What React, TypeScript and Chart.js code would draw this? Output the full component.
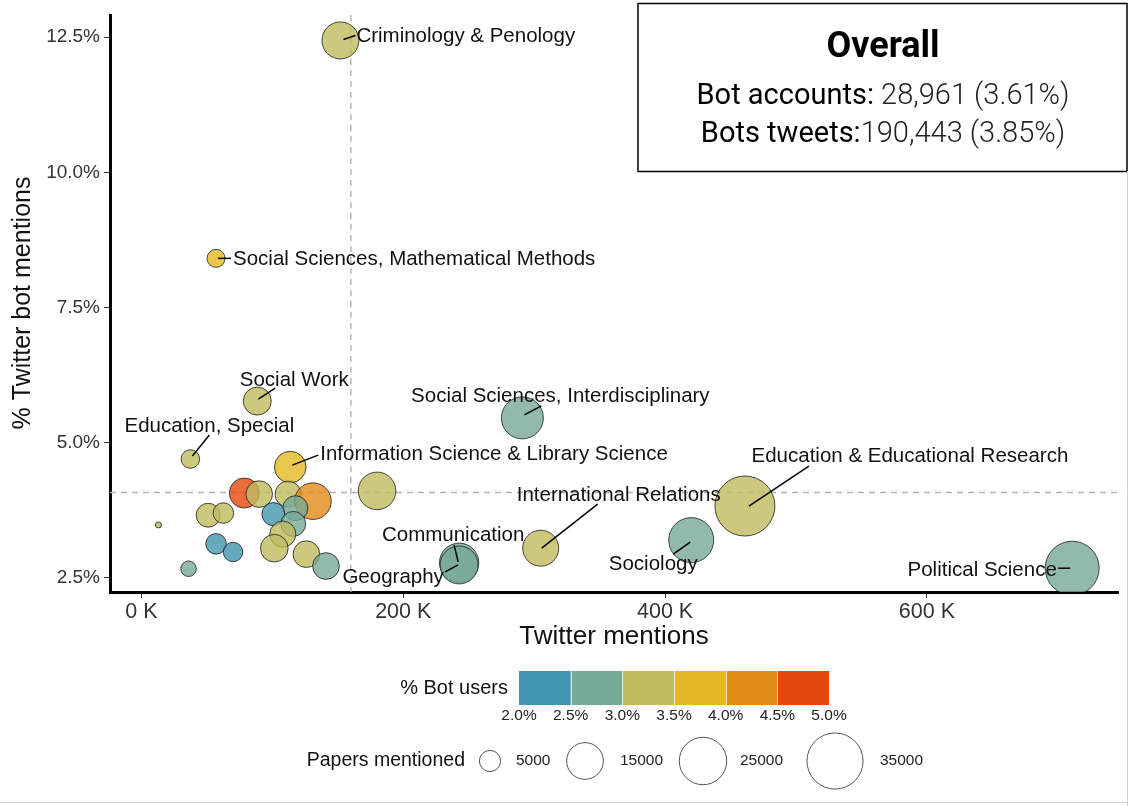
import React, { useEffect, useRef } from "react";
import { Chart, registerables } from "chart.js";

Chart.register(...registerables);

// ---------------- DATA ----------------
const categories = [
  "Criminology & Penology",
  "Social Sciences, Mathematical Methods",
  "Social Work",
  "Education, Special",
  "Information Science & Library Science",
  "", "", "", "", "", "", "", "", "", "", "", "", "", "", "", "", "",
  "",
  "Social Sciences, Interdisciplinary",
  "Communication",
  "Geography",
  "International Relations",
  "Sociology",
  "Education & Educational Research",
  "Political Science",
];
const twitterMentions = [
  152000, 57000, 88500, 37400, 113700,
  78600, 90000, 112000, 131000, 117600, 100800, 116000, 108000, 51000, 62600,
  13000, 57000, 70000, 101500, 126000, 141000, 36000,
  180000,
  291000, 242700, 242700, 305000, 420000, 461000, 711000,
];
const botMentionPct = [
  12.44, 8.41, 5.77, 4.7, 4.55,
  4.07, 4.05, 4.05, 3.92, 3.79, 3.68, 3.5, 3.31, 3.66, 3.7,
  3.48, 3.13, 2.98, 3.05, 2.94, 2.72, 2.67,
  4.11,
  5.46, 2.78, 2.74, 3.05, 3.2, 3.83, 2.68,
];
const botUserPct = [
  3.2, 3.7, 3.2, 3.3, 3.8,
  4.7, 3.2, 3.1, 4.2, 2.8, 2.3, 2.7, 3.1, 3.2, 3.3,
  3.1, 2.4, 2.3, 3.2, 3.3, 2.8, 2.8,
  3.2,
  2.8, 2.7, 2.6, 3.2, 2.8, 3.1, 2.8,
];
const papersMentioned = [
  15200, 3600, 8700, 3840, 11100,
  10000, 7860, 7500, 14900, 6900, 5900, 6900, 7500, 6400, 4700,
  400, 4700, 4200, 8500, 7900, 7900, 2700,
  15700,
  19600, 17200, 16000, 14400, 22500, 40000, 32400,
];

const xTickValues = [0, 200000, 400000, 600000];
const xTickLabels = ["0 K", "200 K", "400 K", "600 K"];
const yTickValues = [2.5, 5, 7.5, 10, 12.5];
const yTickLabels = ["2.5%", "5.0%", "7.5%", "10.0%", "12.5%"];
const referenceMentions = 160000;
const referenceBotPct = 4.08;

const colorBreaks = [2.0, 2.5, 3.0, 3.5, 4.0, 4.5, 5.0];
const colorBreakLabels = ["2.0%", "2.5%", "3.0%", "3.5%", "4.0%", "4.5%", "5.0%"];
const sizeLegendValues = [5000, 15000, 25000, 35000];
const sizeLegendLabels = ["5000", "15000", "25000", "35000"];

const xAxisTitle = "Twitter mentions";
const yAxisTitle = "% Twitter bot mentions";
const colorLegendTitle = "% Bot users";
const sizeLegendTitle = "Papers mentioned";
const overallTitle = "Overall";
const overallLines = [
  ["Bot accounts:", " 28,961 (3.61%)"],
  ["Bots tweets:", "190,443 (3.85%)"],
];

// ---------------- STYLE / LAYOUT ----------------
const binColors = ["#4195AE", "#76A997", "#BFBC5F", "#E3B822", "#E08B16", "#E4480D"];
const SANS = "'Liberation Sans', Arial, Helvetica, sans-serif";
const ROBOTO = "Roboto, 'Noto Sans', sans-serif";

// label placement offsets (pixels, relative to bubble centre)
const labelLayout: Record<string, { tx: number; ty: number; align: CanvasTextAlign; seg: number[] }> = {
  "Criminology & Penology": { tx: 16, ty: -4, align: "left", seg: [3, -1, 15, -5] },
  "Social Sciences, Mathematical Methods": { tx: 17, ty: 1, align: "left", seg: [2, 0, 15, 0] },
  "Social Work": { tx: 37, ty: -21, align: "center", seg: [1, -2, 18, -13] },
  "Education, Special": { tx: 19, ty: -33, align: "center", seg: [2, -3, 19, -24] },
  "Information Science & Library Science": { tx: 30, ty: -13, align: "left", seg: [2, -2, 28, -12] },
  "Social Sciences, Interdisciplinary": { tx: 38, ty: -22, align: "center", seg: [2, -3, 19, -12] },
  "Education & Educational Research": { tx: 165, ty: -50, align: "center", seg: [4, 0, 64, -40] },
  "International Relations": { tx: 78, ty: -53, align: "center", seg: [1, 0, 57, -44] },
  "Communication": { tx: -6, ty: -27, align: "center", seg: [-5, -18, -1, -1] },
  "Geography": { tx: -66, ty: 12, align: "center", seg: [-14, 7, -1, 0] },
  "Sociology": { tx: -38, ty: 24, align: "center", seg: [-18, 14, -1, 2] },
  "Political Science": { tx: -90, ty: 2, align: "center", seg: [-14, 0, -2, 0] },
};

const radiusFor = (papers: number) => 0.15 * Math.sqrt(papers);
const binIndex = (v: number) => Math.max(0, Math.min(binColors.length - 1, Math.floor((v - colorBreaks[0]) / 0.5)));
const hexToRgba = (hex: string, a: number) => {
  const n = parseInt(hex.slice(1), 16);
  return `rgba(${(n >> 16) & 255},${(n >> 8) & 255},${n & 255},${a})`;
};

const annotatePlugin = {
  id: "annotate",
  beforeDatasetsDraw(chart: any) {
    const { ctx, chartArea, scales } = chart;
    const x = scales.x.getPixelForValue(referenceMentions);
    const y = scales.y.getPixelForValue(referenceBotPct);
    ctx.save();
    ctx.strokeStyle = "#b3b3b3";
    ctx.lineWidth = 1.4;
    ctx.setLineDash([6, 5]);
    ctx.beginPath();
    ctx.moveTo(x, chartArea.top);
    ctx.lineTo(x, chartArea.bottom);
    ctx.moveTo(chartArea.left, y);
    ctx.lineTo(chartArea.right, y);
    ctx.stroke();
    ctx.restore();
  },
  afterDatasetsDraw(chart: any) {
    const { ctx } = chart;
    const meta = chart.getDatasetMeta(0);
    ctx.save();
    ctx.font = `20.5px ${SANS}`;
    ctx.textBaseline = "middle";
    categories.forEach((name, i) => {
      const lay = labelLayout[name];
      if (!name || !lay) return;
      const el = meta.data[i];
      const cx = el.x;
      const cy = el.y;
      ctx.strokeStyle = "#000";
      ctx.lineWidth = 1.5;
      ctx.beginPath();
      ctx.moveTo(cx + lay.seg[0], cy + lay.seg[1]);
      ctx.lineTo(cx + lay.seg[2], cy + lay.seg[3]);
      ctx.stroke();
      ctx.fillStyle = "#111";
      ctx.textAlign = lay.align;
      ctx.fillText(name, cx + lay.tx, cy + lay.ty);
    });
    ctx.restore();
  },
  afterDraw(chart: any) {
    const { ctx, chartArea } = chart;
    ctx.save();
    // axis titles
    ctx.fillStyle = "#111";
    ctx.font = `26px ${SANS}`;
    ctx.textAlign = "center";
    ctx.textBaseline = "middle";
    ctx.fillText(xAxisTitle, (chartArea.left + chartArea.right) / 2, 637);
    ctx.save();
    ctx.font = `25px ${SANS}`;
    ctx.translate(23, 303);
    ctx.rotate(-Math.PI / 2);
    ctx.fillText(yAxisTitle, 0, 0);
    ctx.restore();

    // colour legend
    const barL = 519, barR = 829, barT = 671, barB = 705;
    const bw = (barR - barL) / binColors.length;
    binColors.forEach((c, i) => {
      ctx.fillStyle = c;
      ctx.fillRect(barL + i * bw, barT, bw, barB - barT);
    });
    ctx.strokeStyle = "rgba(255,255,255,0.7)";
    ctx.lineWidth = 1;
    for (let i = 1; i < binColors.length; i++) {
      ctx.beginPath();
      ctx.moveTo(Math.round(barL + i * bw) + 0.5, barT);
      ctx.lineTo(Math.round(barL + i * bw) + 0.5, barB);
      ctx.stroke();
    }
    ctx.fillStyle = "#111";
    ctx.font = `20px ${SANS}`;
    ctx.textAlign = "right";
    ctx.fillText(colorLegendTitle, 508, 688);
    ctx.font = `15.5px ${SANS}`;
    ctx.textAlign = "center";
    ctx.fillStyle = "#222";
    colorBreakLabels.forEach((lab, i) => {
      ctx.fillText(lab, barL + i * bw, 716);
    });

    // size legend
    ctx.fillStyle = "#111";
    ctx.font = `19.5px ${SANS}`;
    ctx.textAlign = "right";
    ctx.fillText(sizeLegendTitle, 465, 761);
    const circleX = [490, 585, 703, 835];
    const textX = [516, 620, 740, 880];
    ctx.font = `15.5px ${SANS}`;
    ctx.textAlign = "left";
    sizeLegendValues.forEach((v, i) => {
      ctx.strokeStyle = "#555";
      ctx.lineWidth = 1;
      ctx.beginPath();
      ctx.arc(circleX[i], 761, radiusFor(v), 0, Math.PI * 2);
      ctx.stroke();
      ctx.fillStyle = "#222";
      ctx.fillText(sizeLegendLabels[i], textX[i], 761);
    });

    // overall box
    ctx.fillStyle = "#fff";
    ctx.fillRect(638, 3, 489, 168);
    ctx.strokeStyle = "#000";
    ctx.lineWidth = 1.5;
    ctx.strokeRect(638, 3.5, 489, 168);
    const boxCx = 883;
    ctx.textBaseline = "alphabetic";
    ctx.textAlign = "center";
    ctx.fillStyle = "#000";
    ctx.font = `bold 36px ${ROBOTO}`;
    ctx.fillText(overallTitle, boxCx, 57);
    const baselines = [104, 142];
    const fs = 29;
    overallLines.forEach((parts, i) => {
      ctx.font = `400 ${fs}px ${ROBOTO}`;
      const w1 = ctx.measureText(parts[0]).width;
      ctx.font = `300 ${fs}px ${ROBOTO}`;
      const w2 = ctx.measureText(parts[1]).width;
      const start = boxCx - (w1 + w2) / 2;
      ctx.textAlign = "left";
      ctx.font = `400 ${fs}px ${ROBOTO}`;
      ctx.fillStyle = "#000";
      ctx.fillText(parts[0], start, baselines[i]);
      ctx.font = `300 ${fs}px ${ROBOTO}`;
      ctx.fillStyle = "#222";
      ctx.fillText(parts[1], start + w1, baselines[i]);
    });

    // faint outer frame lines
    ctx.strokeStyle = "#d0d0d0";
    ctx.lineWidth = 1;
    ctx.beginPath();
    ctx.moveTo(1127.5, 171);
    ctx.lineTo(1127.5, 806);
    ctx.moveTo(0, 802.5);
    ctx.lineTo(1128, 802.5);
    ctx.stroke();
    ctx.restore();
  },
};

const zeroPadding = (s: any) => {
  s.paddingTop = 0;
  s.paddingBottom = 0;
  s.paddingLeft = 0;
  s.paddingRight = 0;
};

export default function App() {
  const ref = useRef<HTMLCanvasElement | null>(null);
  useEffect(() => {
    document.body.style.margin = "0";
    const canvas = ref.current;
    if (!canvas) return;
    const points = categories.map((_, i) => ({
      x: twitterMentions[i],
      y: botMentionPct[i],
      r: radiusFor(papersMentioned[i]),
    }));
    const chart = new Chart(canvas, {
      type: "bubble",
      data: {
        datasets: [
          {
            data: points,
            backgroundColor: botUserPct.map((v) => hexToRgba(binColors[binIndex(v)], 0.8)),
            borderColor: "rgba(30,30,30,0.8)",
            borderWidth: 1,
          },
        ],
      },
      options: {
        responsive: false,
        animation: false,
        events: [],
        layout: { autoPadding: false, padding: { left: 0, right: 12, top: 15, bottom: 0 } },
        plugins: { legend: { display: false }, tooltip: { enabled: false } },
        scales: {
          x: {
            type: "linear",
            min: -24000,
            max: 746000,
            afterBuildTicks: (s: any) => {
              s.ticks = xTickValues.map((v) => ({ value: v }));
            },
            afterFit: (s: any) => {
              s.height = 214;
              zeroPadding(s);
            },
            ticks: {
              callback: (v: any) => xTickLabels[xTickValues.indexOf(Number(v))],
              font: { family: SANS, size: 21.5 },
              color: "#333",
              padding: 1,
              maxRotation: 0,
              autoSkip: false,
            },
            grid: { drawOnChartArea: false, drawTicks: true, tickLength: 6, color: "#333", lineWidth: 1 },
            border: { display: true, color: "#000", width: 3 },
          },
          y: {
            type: "linear",
            min: 2.24,
            max: 12.91,
            afterBuildTicks: (s: any) => {
              s.ticks = yTickValues.map((v) => ({ value: v }));
            },
            afterFit: (s: any) => {
              s.width = 110;
              zeroPadding(s);
            },
            ticks: {
              callback: (v: any) => yTickLabels[yTickValues.indexOf(Number(v))],
              font: { family: SANS, size: 19 },
              color: "#333",
              padding: 4,
              autoSkip: false,
            },
            grid: { drawOnChartArea: false, drawTicks: true, tickLength: 6, color: "#333", lineWidth: 1 },
            border: { display: true, color: "#000", width: 3 },
          },
        },
      },
      plugins: [annotatePlugin],
    } as any);
    return () => chart.destroy();
  }, []);
  return (
    <canvas
      ref={ref}
      width={1130}
      height={806}
      style={{ display: "block", width: 1130, height: 806 }}
    />
  );
}
